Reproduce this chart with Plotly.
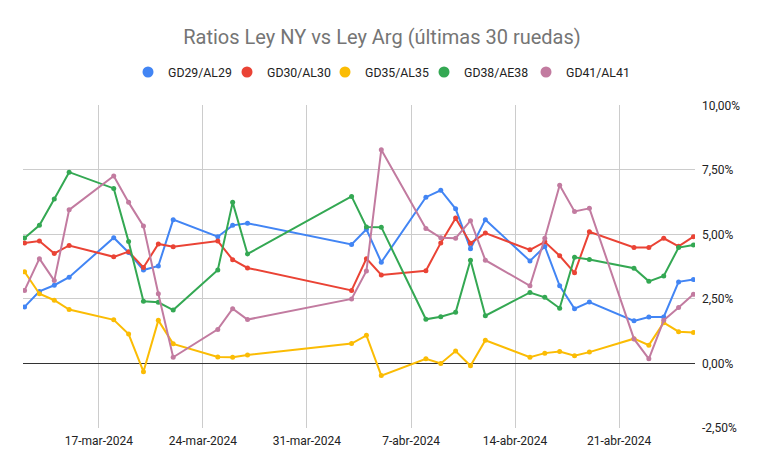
import plotly.graph_objects as go

dates = ["2024-03-12", "2024-03-13", "2024-03-14", "2024-03-15", "2024-03-18", "2024-03-19",
         "2024-03-20", "2024-03-21", "2024-03-22", "2024-03-25", "2024-03-26", "2024-03-27",
         "2024-04-03", "2024-04-04", "2024-04-05", "2024-04-08", "2024-04-09", "2024-04-10",
         "2024-04-11", "2024-04-12", "2024-04-15", "2024-04-16", "2024-04-17", "2024-04-18",
         "2024-04-19", "2024-04-22", "2024-04-23", "2024-04-24", "2024-04-25", "2024-04-26"]

gd29 = [2.19, 2.79, 3.03, 3.34, 4.87, 4.30, 3.62, 3.78, 5.57, 4.91, 5.35, 5.43,
        4.61, 5.20, 3.92, 6.44, 6.71, 5.99, 4.44, 5.57, 3.97, 4.53, 3.01, 2.12,
        2.38, 1.65, 1.80, 1.80, 3.16, 3.25]
gd30 = [4.67, 4.74, 4.26, 4.57, 4.13, 4.33, 3.72, 4.63, 4.52, 4.74, 4.02, 3.70,
        2.83, 4.06, 3.43, 3.59, 4.67, 5.63, 4.66, 5.05, 4.40, 4.71, 4.17, 3.51,
        5.10, 4.49, 4.49, 4.85, 4.54, 4.91]
gd35 = [3.55, 2.70, 2.45, 2.09, 1.69, 1.14, -0.32, 1.67, 0.76, 0.25, 0.24, 0.33,
        0.77, 1.09, -0.47, 0.18, 0.00, 0.48, -0.09, 0.90, 0.24, 0.40, 0.46, 0.30,
        0.44, 0.96, 0.71, 1.58, 1.23, 1.20]
gd38 = [4.86, 5.35, 6.37, 7.41, 6.78, 4.72, 2.41, 2.37, 2.07, 3.62, 6.24, 4.24,
        6.47, 5.29, 5.28, 1.71, 1.81, 1.98, 4.00, 1.85, 2.75, 2.56, 2.14, 4.11,
        4.03, 3.69, 3.18, 3.39, 4.49, 4.59]
gd41 = [2.83, 4.06, 3.21, 5.95, 7.26, 6.24, 5.32, 2.70, 0.24, 1.32, 2.12, 1.70,
        2.50, 3.58, 8.28, 5.23, 4.87, 4.85, 5.53, 4.00, 3.01, 4.85, 6.90, 5.89,
        6.01, 0.95, 0.18, 1.67, 2.17, 2.68]

series_names = ["GD29/AL29", "GD30/AL30", "GD35/AL35", "GD38/AE38", "GD41/AL41"]
series_values = [gd29, gd30, gd35, gd38, gd41]
colors = ["#4285F4", "#EA4335", "#FBBC04", "#34A853", "#C27BA0"]

x_tick_vals = ["2024-03-17", "2024-03-24", "2024-03-31", "2024-04-07", "2024-04-14", "2024-04-21"]
x_tick_text = ["17-mar-2024", "24-mar-2024", "31-mar-2024", "7-abr-2024", "14-abr-2024", "21-abr-2024"]
y_tick_vals = [-2.5, 0, 2.5, 5, 7.5, 10]
y_tick_text = ["-2,50%", "0,00%", "2,50%", "5,00%", "7,50%", "10,00%"]

title_text = "Ratios Ley NY vs Ley Arg (últimas 30 ruedas)"

# legend item left positions (px), one legend box per series
legend_left_px = [128, 227, 325, 424, 526]
legend_ids = ["legend", "legend2", "legend3", "legend4", "legend5"]

fig = go.Figure()
for name, vals, col in zip(series_names, series_values, colors):
    fig.add_trace(go.Scatter(
        x=dates, y=vals, mode="lines+markers", name=name,
        line=dict(color=col, width=2), marker=dict(color=col, size=5),
        showlegend=False,
    ))
for name, col, lid in zip(series_names, colors, legend_ids):
    fig.add_trace(go.Scatter(
        x=[None], y=[None], mode="markers", name=name,
        marker=dict(color=col, size=11), showlegend=True, legend=lid,
    ))

legend_layouts = {}
for lid, left in zip(legend_ids, legend_left_px):
    legend_layouts[lid] = dict(
        orientation="h", x=left / 764, xanchor="left", xref="container",
        y=1 - 72 / 473, yanchor="middle", yref="container",
        font=dict(family="Roboto", size=12.3, color="#222222"),
        itemwidth=30, bgcolor="rgba(0,0,0,0)",
    )

fig.update_layout(
    width=764, height=473,
    margin=dict(l=23, r=69, t=101, b=45),
    paper_bgcolor="white", plot_bgcolor="white",
    separators=",.",
    font=dict(family="Roboto", size=12, color="#222222"),
    title=dict(text=title_text, x=0.5, xanchor="center", xref="container",
               y=1 - 37 / 473, yanchor="middle", yref="container",
               font=dict(family="Roboto", size=20, color="#757575")),
    xaxis=dict(
        type="date",
        range=["2024-03-11 21:30", "2024-04-26 02:30"],
        tickvals=x_tick_vals, ticktext=x_tick_text,
        showgrid=True, gridcolor="#cccccc", gridwidth=1,
        zeroline=False, showline=False, ticks="", ticklabelstandoff=4,
        tickfont=dict(size=12, color="#222222"),
    ),
    yaxis=dict(
        side="right", range=[-2.5, 10],
        tickvals=y_tick_vals, ticktext=y_tick_text,
        showgrid=True, gridcolor="#cccccc", gridwidth=1,
        zeroline=True, zerolinecolor="#333333", zerolinewidth=1,
        showline=False, ticks="", ticklabelstandoff=6,
        tickfont=dict(size=12, color="#222222"),
    ),
    **legend_layouts,
)

fig.write_html("out.html")
